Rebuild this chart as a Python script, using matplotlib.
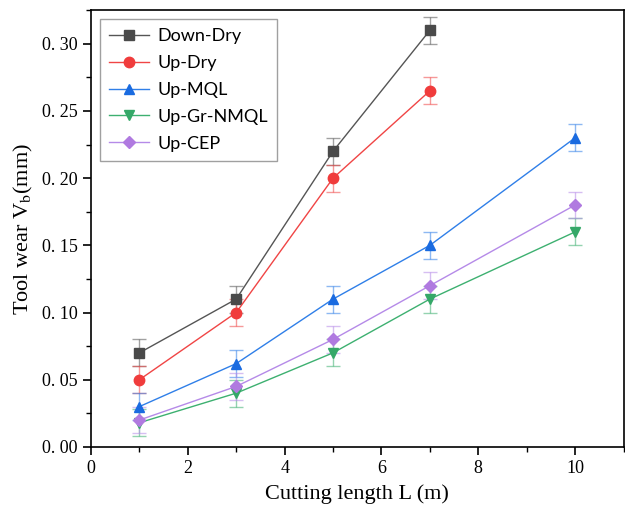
import matplotlib
matplotlib.use("Agg")
import matplotlib.pyplot as plt
from matplotlib.ticker import MultipleLocator, FuncFormatter

plt.rcParams["mathtext.fontset"] = "stix"

x_dry = [1, 3, 5, 7]
x_all = [1, 3, 5, 7, 10]
down_dry = [0.07, 0.11, 0.22, 0.31]
up_dry = [0.05, 0.10, 0.20, 0.265]
up_mql = [0.03, 0.062, 0.11, 0.15, 0.23]
up_gr_nmql = [0.018, 0.04, 0.07, 0.11, 0.16]
up_cep = [0.02, 0.045, 0.08, 0.12, 0.18]
err_dry = [0.01, 0.01, 0.01, 0.01]
err_all = [0.01, 0.01, 0.01, 0.01, 0.01]

series = [
    ("Down-Dry", x_dry, down_dry, err_dry, "s", "#555555", "#4a4a4a"),
    ("Up-Dry", x_dry, up_dry, err_dry, "o", "#f04545", "#f03c3c"),
    ("Up-MQL", x_all, up_mql, err_all, "^", "#2f7fe8", "#1a6be0"),
    ("Up-Gr-NMQL", x_all, up_gr_nmql, err_all, "v", "#3db070", "#35a868"),
    ("Up-CEP", x_all, up_cep, err_all, "D", "#b58ae8", "#b07ae0"),
]

fig = plt.figure(figsize=(6.25, 5.09), dpi=100)
ax = fig.add_axes([0.1456, 0.122, 0.852, 0.858])

for name, xs, ys, es, m, lc, mc in series:
    ax.errorbar(xs, ys, yerr=es, fmt="none", ecolor=lc, alpha=0.55,
                elinewidth=1.0, capsize=5, capthick=1.0, zorder=2)
    ax.plot(xs, ys, color=lc, lw=1.0, marker=m, markersize=7.5 if m != "D" else 6.5,
            markerfacecolor=mc, markeredgecolor=mc, label=name, zorder=3)

ax.set_xlim(0, 11)
ax.set_ylim(0, 0.325)
ax.xaxis.set_major_locator(MultipleLocator(2))
ax.xaxis.set_minor_locator(MultipleLocator(1))
ax.yaxis.set_major_locator(MultipleLocator(0.05))
ax.yaxis.set_minor_locator(MultipleLocator(0.025))
ax.yaxis.set_major_formatter(FuncFormatter(lambda v, p: ("%.2f" % v).replace(".", ". ")))
ax.tick_params(which="major", direction="out", length=6, width=1.2, labelsize=13)
ax.tick_params(which="minor", direction="out", length=3.5, width=1.0)
for lab in ax.get_xticklabels() + ax.get_yticklabels():
    lab.set_fontfamily("Liberation Serif")
for s in ax.spines.values():
    s.set_linewidth(1.2)

ax.set_xlabel("Cutting length L (m)", fontsize=16, family="Liberation Serif", labelpad=5)
ax.set_ylabel("Tool wear V$_\\mathrm{b}$(mm)", fontsize=16, family="Liberation Serif", labelpad=5)

leg = ax.legend(loc="upper left", prop={"family": "Lato", "size": 13}, frameon=True,
                fancybox=False, edgecolor="#888888", handlelength=2.2, handletextpad=0.5,
                borderaxespad=0.5, labelspacing=0.6, borderpad=0.5)
leg.get_frame().set_linewidth(1.0)

fig.savefig("out.png", dpi=100)
